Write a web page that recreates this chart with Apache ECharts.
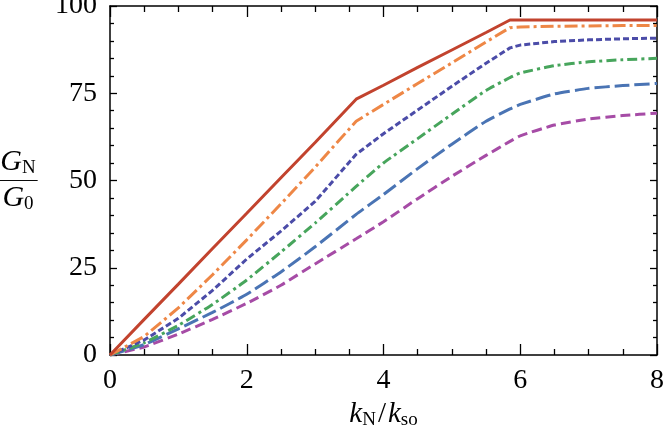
<!doctype html>
<html>
<head>
<meta charset="UTF-8">
<title>G_N / G_0</title>
<script src="https://cdn.jsdelivr.net/npm/echarts@6/dist/echarts.min.js"></script>
<style>
	html, body { margin: 0; padding: 0; background: #fff; }
	#chart { width: 664px; height: 431px; }
</style>
</head>
<body>
<div id="chart"></div>
<script>
	// x positions (k_N / k_so) shared by all curves
	var kRatio = [0, 0.5, 1, 1.5, 2, 2.5, 3, 3.6, 4, 4.5, 5, 5.5, 5.85, 6, 6.5, 7, 7.5, 8];

	// G_N / G_0 for each curve, top to bottom
	var curveRed    = [0, 10.2, 20.3, 30.5, 40.6, 50.8, 60.9, 73.3, 77.3, 82.4, 87.4, 92.4, 96, 96, 96, 96, 96, 96];
	var curveOrange = [0, 5.3, 13.5, 23, 33, 43.3, 53.8, 67, 71.8, 77.8, 83.7, 89.7, 93.8, 94, 94.2, 94.3, 94.4, 94.4];
	var curveIndigo = [0, 4.3, 10.5, 18.5, 27.5, 35.5, 44, 57.5, 63.4, 70.2, 77, 83.6, 88, 88.8, 89.8, 90.3, 90.6, 90.8];
	var curveGreen  = [0, 3.5, 8.5, 14.5, 21.5, 29.5, 37.8, 48.3, 55, 62, 69, 75.8, 79.5, 80.8, 82.9, 84, 84.6, 85];
	var curveBlue   = [0, 3, 7.5, 12.2, 17.4, 23.8, 31, 40.3, 46, 53.4, 60.4, 67, 70.5, 71.8, 74.8, 76.4, 77.2, 77.8];
	var curvePurple = [0, 2.3, 6, 10.2, 14.8, 20, 26.1, 33.3, 38.2, 44.8, 51.2, 57.2, 61.2, 62.8, 65.9, 67.6, 68.6, 69.3];

	var xTicks = [0, 2, 4, 6, 8];
	var yTicks = [0, 25, 50, 75, 100];

	var serif = 'Liberation Serif';

	function pairs(ys) {
		return kRatio.map(function (x, i) { return [x, ys[i]]; });
	}

	function curve(ys, color, dash, smooth) {
		return {
			type: 'line',
			data: pairs(ys),
			showSymbol: false,
			symbol: 'none',
			smooth: smooth || false,
			lineStyle: { color: color, width: 3, type: dash, cap: 'butt' },
			z: 3
		};
	}

	var chart = echarts.init(document.getElementById('chart'));

	var axisLine = { show: true, onZero: false, lineStyle: { color: '#000', width: 1.5 } };
	var tickStyle = { color: '#000', width: 1.3 };

	function xAxis(pos, extra) {
		var a = {
			type: 'value',
			min: xTicks[0], max: xTicks[xTicks.length - 1], interval: 2,
			position: pos,
			axisLine: axisLine,
			axisTick: { show: true, inside: true, length: 11, lineStyle: tickStyle },
			minorTick: { show: true, splitNumber: 4, length: 6, lineStyle: tickStyle },
			splitLine: { show: false },
			minorSplitLine: { show: false },
			axisLabel: { show: false }
		};
		return Object.assign(a, extra || {});
	}

	function yAxis(pos, extra) {
		var a = {
			type: 'value',
			min: yTicks[0], max: yTicks[yTicks.length - 1], interval: 25,
			position: pos,
			axisLine: axisLine,
			axisTick: { show: true, inside: true, length: 7, lineStyle: tickStyle },
			minorTick: { show: true, splitNumber: 5, length: 4, lineStyle: tickStyle },
			splitLine: { show: false },
			minorSplitLine: { show: false },
			axisLabel: { show: false }
		};
		return Object.assign(a, extra || {});
	}

	var option = {
		animation: false,
		backgroundColor: '#fff',
		grid: { left: 110, right: 7, top: 6, bottom: 76, containLabel: false, outerBoundsMode: 'none' },
		xAxis: [
			xAxis('bottom', {
				axisLabel: { show: true, color: '#000', fontFamily: serif, fontSize: 28, margin: 12 },
				name: '{k|k}{s|N}{n|/}{k|k}{s|so}',
				nameLocation: 'middle',
				nameGap: 40,
				nameTextStyle: {
					rich: {
						k: { fontFamily: serif, fontStyle: 'italic', fontSize: 29, lineHeight: 30, color: '#000' },
						n: { fontFamily: serif, fontSize: 29, lineHeight: 30, color: '#000', padding: [0, 2, 0, 2] },
						s: { fontFamily: serif, fontSize: 19, lineHeight: 14, verticalAlign: 'bottom', color: '#000' }
					}
				}
			}),
			xAxis('top')
		],
		yAxis: [
			yAxis('left', {
				axisLabel: { show: true, color: '#000', fontFamily: serif, fontSize: 28, margin: 13 },
				name: '{g|G}{s|N}\n{hr|}\n{g|G}{s|0}',
				nameLocation: 'middle',
				nameRotate: 0,
				nameGap: 92,
				nameTextStyle: {
					align: 'center',
					rich: {
						g: { fontFamily: serif, fontStyle: 'italic', fontSize: 30, lineHeight: 30, color: '#000', align: 'center' },
						s: { fontFamily: serif, fontSize: 19, lineHeight: 14, verticalAlign: 'bottom', color: '#000', align: 'center' },
						hr: { width: 39, height: 0, borderColor: '#000', borderWidth: 0.8, lineHeight: 6, align: 'center' }
					}
				}
			}),
			yAxis('right')
		],
		series: [
			curve(curvePurple, '#a64ca6', [10, 5], 0.15),
			curve(curveBlue, '#4a74b4', [15, 5], 0.15),
			curve(curveGreen, '#47a55c', [10, 4, 3, 4], 0.15),
			curve(curveIndigo, '#4b4ca8', [6, 3]),
			curve(curveOrange, '#ee8746', [13, 4, 3, 4]),
			curve(curveRed, '#c2432e', 'solid')
		]
	};

	chart.setOption(option);
</script>
</body>
</html>
